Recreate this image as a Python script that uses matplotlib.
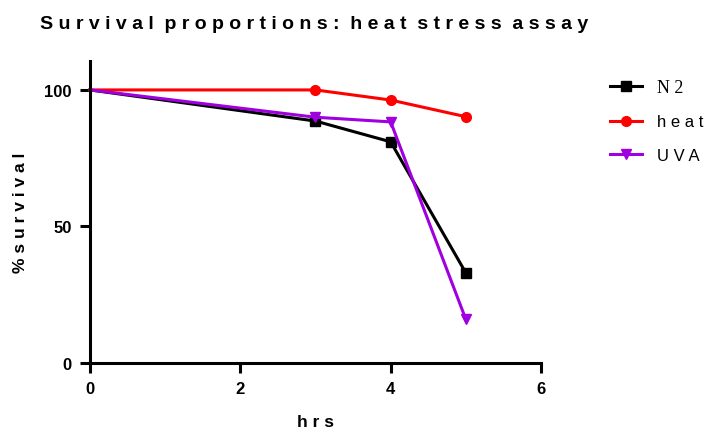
import matplotlib
matplotlib.use("Agg")
import matplotlib.pyplot as plt

hours = [0, 3, 4, 5]
n2 = [100, 88.6, 81.0, 33.0]
heat = [100, 100, 96.3, 90.2]
uva = [100, 90.0, 88.3, 16.0]
names = ["N2", "heat", "UVA"]
colors = ["black", "#ff0000", "#a000e0"]
markers = ["s", "o", "v"]

plt.rcParams['font.family'] = ['Liberation Sans', 'DejaVu Sans']

fig = plt.figure(figsize=(7.07, 4.35), dpi=100)
ax = fig.add_axes([0.1273, 0.1632, 0.6379, 0.6943])

for ys, c, m, n in zip([n2, heat, uva], colors, markers, names):
    ax.plot(hours, ys, color=c, lw=2.2, marker=m, markersize=7,
            markevery=[1, 2, 3], label=n, clip_on=False)

ax.set_xlim(0, 6)
ax.set_ylim(0, 110.6)
ax.set_xticks([0, 2, 4, 6])
ax.set_yticks([0, 50, 100])
for s in ['top', 'right']:
    ax.spines[s].set_visible(False)
for s in ['left', 'bottom']:
    ax.spines[s].set_linewidth(2.2)
ax.tick_params(width=2.2, length=7, labelsize=12, direction='out', pad=6)
for lab in ax.get_xticklabels() + ax.get_yticklabels():
    lab.set_fontweight('bold')

ax.set_xlabel("h r s", fontsize=12.5, fontweight='bold', labelpad=13)
ax.set_ylabel("% s u r v i v a l", fontsize=12.5, fontweight='bold', labelpad=12)
fig.text(0.057, 0.933, "S u r v i v a l  p r o p o r t i o n s :  h e a t  s t r e s s  a s s a y",
         fontsize=14, fontweight='bold', ha='left', va='baseline')

leg = ax.legend(loc='upper left', bbox_to_anchor=(1.153, 0.94), frameon=False,
                fontsize=12, handlelength=1.9, handletextpad=0.9,
                borderaxespad=0, borderpad=0, labelspacing=1.1)
texts = leg.get_texts()
texts[0].set_text("N 2")
texts[0].set_family(['Liberation Serif', 'DejaVu Serif'])
texts[0].set_fontsize(13)
texts[1].set_text("h e a t")
texts[2].set_text("U V A")

fig.savefig("out.png", dpi=100)
